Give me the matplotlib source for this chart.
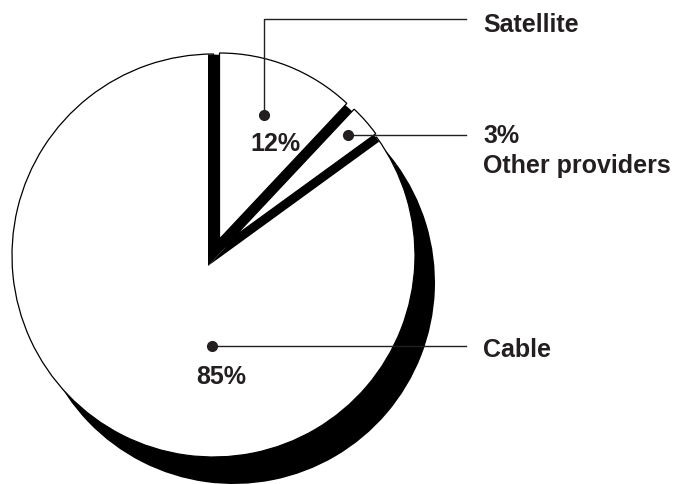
import matplotlib
matplotlib.use("Agg")
import matplotlib.pyplot as plt

# ---- data ----
categories = ["Satellite", "Other providers", "Cable"]
shares = [12, 3, 85]

# ---- figure (pixel-like data coordinates, y up) ----
W, H = 682, 485
fig = plt.figure(figsize=(W / 100, H / 100), dpi=100)
ax = fig.add_axes([0, 0, 1, 1])

def py(y):  # convert top-based pixel y to data y
    return H - y

R = 201.5
main_center = (213.5, py(256.5))
shadow_center = (233.5, py(283.5))
v_center = (208.0, py(267.0))
slice_centers = [(219.5, py(240.0)), (235.0, py(237.0)), main_center]
slice_radii = [186.0, 174.0, R]

ink = "#231f20"
common = dict(startangle=90, counterclock=False)

# shadow
ax.pie(shares, colors=["black"] * 3, radius=R, center=shadow_center,
       wedgeprops=dict(linewidth=0), **common)

# white slices
wedges, _ = ax.pie(shares, colors=["white"] * 3, radius=R, center=main_center,
                   wedgeprops=dict(edgecolor="black", linewidth=0.9), **common)
for w, c, r in zip(wedges, slice_centers, slice_radii):
    w.set_center(c)
    w.set_radius(r)

# black gap behind the exploded slices
gaps, _ = ax.pie(shares, colors=["black", "black", "none"], radius=211.5,
                 center=v_center, wedgeprops=dict(linewidth=0), **common)
gaps[2].set_visible(False)
for g in gaps[:2]:
    g.set_zorder(wedges[2].get_zorder() + 0.5)
for w in wedges[:2]:
    w.set_zorder(wedges[2].get_zorder() + 1)

ax.set_xlim(0, W)
ax.set_ylim(0, H)
ax.set_aspect("equal")
ax.axis("off")

font = dict(family=["Liberation Sans", "DejaVu Sans"], fontweight="bold",
            fontsize=18, color=ink)

# leader lines, dots and labels
z = 10
# Satellite
ax.plot([264, 264, 466], [py(116), py(20), py(20)], color=ink, lw=1.0, zorder=z)
ax.plot([264], [py(116)], "o", color=ink, ms=7, zorder=z)
ax.text(483, py(32), categories[0], ha="left", va="baseline", **font, zorder=z)
ax.text(275.5, py(151), f"{shares[0]}%", ha="center", va="baseline", **font, zorder=z)
# Other providers
ax.plot([348, 466], [py(136), py(136)], color=ink, lw=1.0, zorder=z)
ax.plot([348], [py(136)], "o", color=ink, ms=7, zorder=z)
ax.text(483, py(143), f"{shares[1]}%", ha="left", va="baseline", **font, zorder=z)
ax.text(483, py(173), categories[1], ha="left", va="baseline", **font, zorder=z)
# Cable
ax.plot([212, 466], [py(347), py(347)], color=ink, lw=1.0, zorder=z)
ax.plot([212], [py(347)], "o", color=ink, ms=7, zorder=z)
ax.text(483, py(357), categories[2], ha="left", va="baseline", **font, zorder=z)
ax.text(221.5, py(384), f"{shares[2]}%", ha="center", va="baseline", **font, zorder=z)

fig.savefig("out.png", dpi=100, facecolor="white")
